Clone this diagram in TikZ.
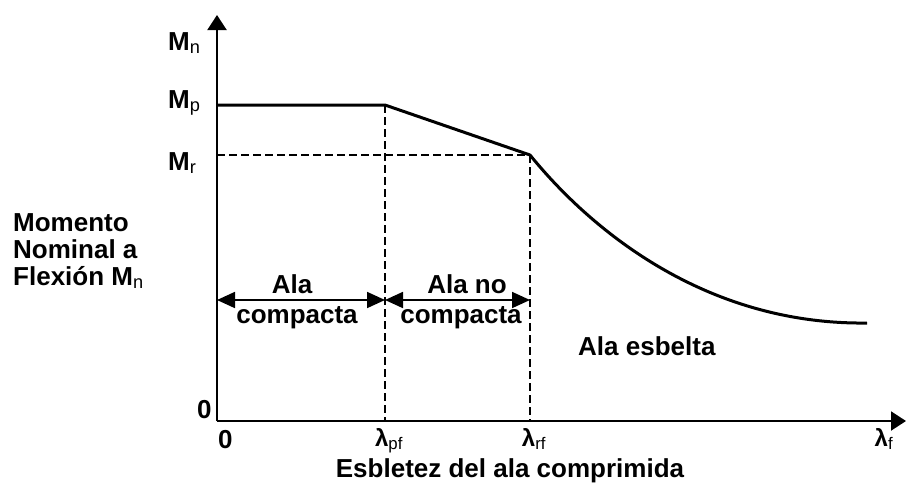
\documentclass[tikz,border=0pt]{standalone}
\usepackage{fontspec}
\setmainfont{Liberation Sans}
\usetikzlibrary{positioning, calc, arrows.meta}
\tikzset{>=latex}

\begin{document}
\begin{tikzpicture}[x=1pt, y=-1pt, every node/.append style={font=\fontsize{26}{27}\selectfont\bfseries, inner sep=0pt}, X/.tip={Triangle[length=18pt,width=16pt]}, Y/.tip={Triangle[length=15pt,width=19pt]}, guide/.style={dash pattern=on 8pt off 4pt, line width=1.5pt}, lam/.style={anchor=base, font=\fontsize{24}{26}\selectfont\bfseries}]
    \useasboundingbox (0,0) rectangle (906,483);
    \coordinate (origin) at (217,421);
    \coordinate (ytop) at (217,15);
    \coordinate (xend) at (906,421);
    \coordinate (mp) at (217,105);
    \coordinate (mr) at (217,155);
    \coordinate (pf) at (385,105);
    \coordinate (rf) at (530,155);
    \coordinate (pfAxis) at (385,421);
    \coordinate (rfAxis) at (530,421);
    \coordinate (tail) at (867,323);
    \coordinate (dimL) at (217,300);
    \coordinate (dimM) at (385,300);
    \coordinate (dimR) at (530,300);
    \draw[line width=2pt,-Y] (origin) -- (ytop);
    \draw[line width=2pt,-Y] (origin) -- (xend);
    \draw[guide] (mr) -- (rf);
    \draw[guide] (pf) -- (pfAxis);
    \draw[guide] (rf) -- (rfAxis);
    \draw[line width=3pt, line join=round] (mp) -- (pf) -- (rf) .. controls (595,235) and (710,325) .. (tail);
    \draw[line width=1.8pt, X-X] (dimL) -- (dimM);
    \draw[line width=1.8pt, X-X] (dimM) -- (dimR);
    \node[anchor=base west] (Mn) at (168,50) {M\textsubscript{\mdseries n}};
    \node[anchor=base west] (Mp) at (168,108) {M\textsubscript{\mdseries p}};
    \node[anchor=base west] (Mr) at (168,170) {M\textsubscript{\mdseries r}};
    \node[anchor=base west] (zeroY) at (197,418) {0};
    \node[anchor=base west] (zeroX) at (218,448) {0};
    \node[lam] (lpf) at (389,446) {λ\textsubscript{\mdseries pf}};
    \node[lam] (lrf) at (534,446) {λ\textsubscript{\mdseries rf}};
    \node[lam] (lf) at (884,446) {λ\textsubscript{\mdseries f}};
    \node[anchor=base] (xlabel) at (510,477) {Esbletez del ala comprimida};
    \node[anchor=north west, align=left] (ylabel) at (13,213) {Momento\\Nominal a\\Flexión M\textsubscript{\mdseries n}};
    \node[anchor=base] (alaC) at (292,293) {Ala};
    \node[below=13pt of alaC, xshift=5pt] (compC) {compacta};
    \node[anchor=base] (alaN) at (467,293) {Ala no};
    \node[below=13pt of alaN, xshift=-6pt] (compN) {compacta};
    \node[anchor=base west] (esb) at (578,355) {Ala esbelta};
\end{tikzpicture}
\end{document}
